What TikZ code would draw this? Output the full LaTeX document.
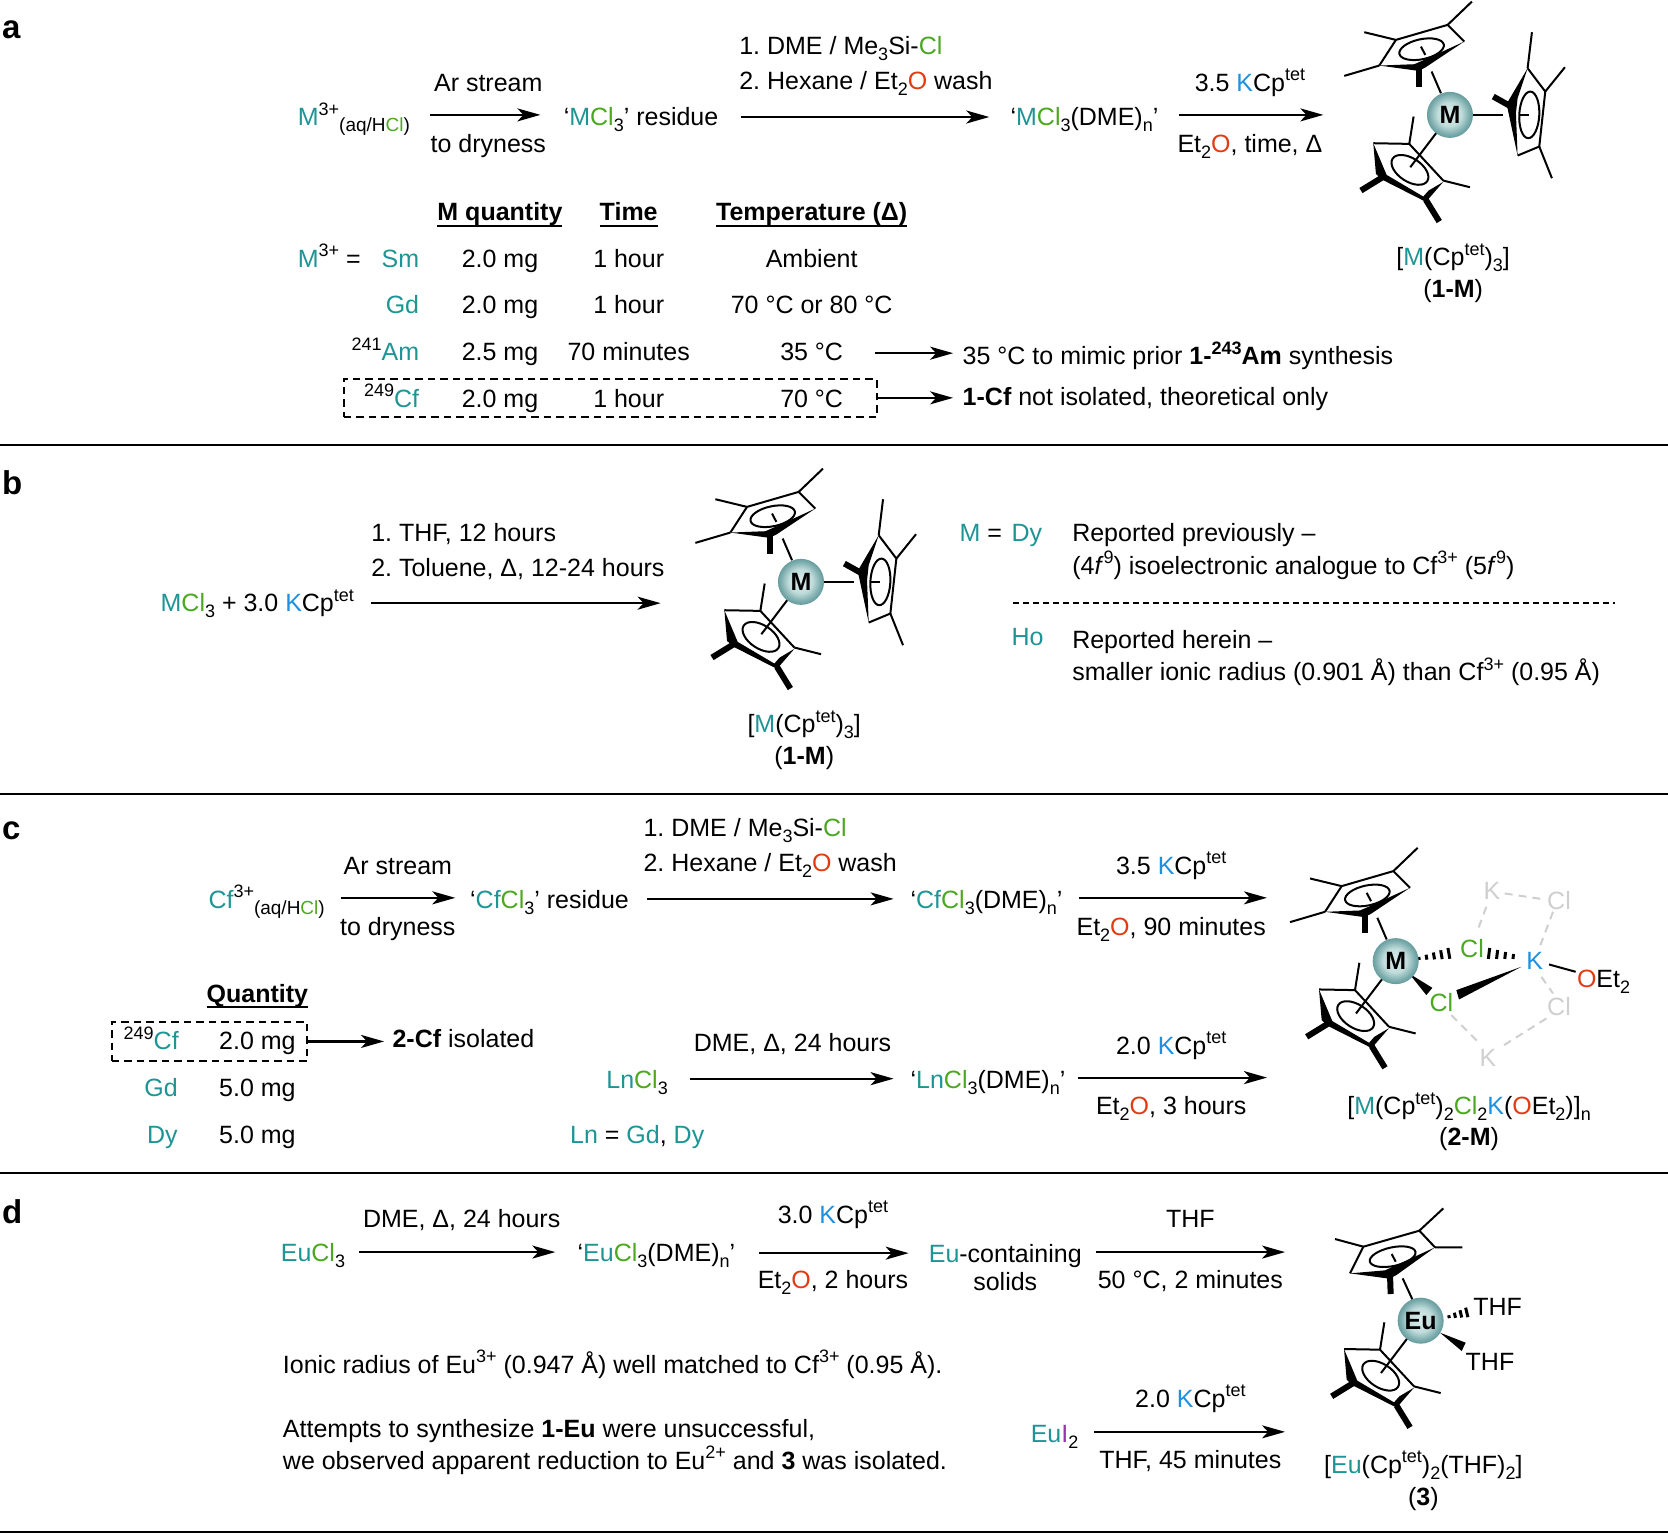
\documentclass[tikz,border=0pt]{standalone}
\usepackage{fontspec}
\setmainfont{Liberation Sans}
\usetikzlibrary{arrows.meta,calc}
\frenchspacing
\definecolor{mt}{HTML}{1F9494}
\definecolor{clg}{HTML}{4BA820}
\definecolor{kb}{HTML}{1E90E0}
\definecolor{ored}{HTML}{E23B14}
\definecolor{ipur}{HTML}{9B30B0}
\definecolor{gy}{HTML}{CFCFCF}
\definecolor{ballA}{HTML}{DAEDEB}
\definecolor{ballB}{HTML}{C0DCDB}
\definecolor{ballC}{HTML}{80AFB0}
\definecolor{ballD}{HTML}{5F9799}
\pgfdeclareradialshading{mball}{\pgfpoint{-1bp}{1bp}}{color(0bp)=(ballA); color(13bp)=(ballB); color(21bp)=(ballC); color(26bp)=(ballD); color(50bp)=(ballD)}
\newcommand\clrM[1]{\textcolor{mt}{#1}}
\newcommand\clrC[1]{\textcolor{clg}{#1}}
\newcommand\clrK[1]{\textcolor{kb}{#1}}
\newcommand\clrO[1]{\textcolor{ored}{#1}}
\newcommand\sps[1]{\raisebox{0.42em}{\fontsize{18}{18}\selectfont #1}}
\newcommand\sbs[1]{\raisebox{-0.24em}{\fontsize{18}{18}\selectfont #1}}
\newcommand\sbb[1]{\raisebox{-0.24em}{\fontsize{19}{19}\selectfont #1}}
\newcommand\kcp[1]{#1 \clrK{K}Cp\sps{tet}}
\newcommand\etO{Et\sbs{2}\clrO{O}}
\tikzset{
  every node/.style={font=\fontsize{25}{29}\selectfont},
  txt/.style={inner sep=0pt,outer sep=0pt,anchor=base},
  lft/.style={txt,anchor=base west},
  rgt/.style={txt,anchor=base east},
  head/.style={txt,font=\fontsize{25}{29}\selectfont\bfseries},
  panel/.style={lft,font=\fontsize{33}{36}\selectfont\bfseries},
  rxn/.style={line width=2.2pt,-{Stealth[length=23pt,width=13pt,inset=6pt]}},
  ruleline/.style={line width=2pt},
  ul/.style={line width=2pt},
  dbox/.style={draw,line width=2pt,dash pattern=on 7.5pt off 5pt,inner sep=0pt,minimum height=38.3pt},
  metal/.style={circle,inner sep=0pt,minimum size=46pt,shading=mball,font=\fontsize{25}{25}\selectfont\bfseries},
  bd/.style={line width=2pt},
  bold/.style={line width=6pt},
  ghost/.style={gy,line width=2pt,dash pattern=on 8pt off 6pt},
  glabel/.style={txt,anchor=center,text=gy},
  zoomat/.style n args={4}{shift={(#1,#2)},x=.33333pt,y=-.33333pt,shift={(-#3,-#4)}},
}
\newcommand\rxnarrow[6]{\draw[rxn] ([shift={(#2,#3)}]#1.base east) -- ([shift={(-#5,#6)}]#4.base west);}
\newcommand\rxnfree[4]{\draw[rxn] ([shift={(#2,#3)}]#1.base east) -- (#4);}
\newcommand\hashb[5]{%
  \coordinate (hA) at (#1); \coordinate (hB) at (#2);
  \foreach \i in {0,...,#5}{%
    \pgfmathsetmacro\ttt{\i/#5}%
    \pgfmathsetmacro\www{#3+(#4-#3)*\ttt}%
    \draw[line width=3pt] ($(hA)!\ttt!(hB)!\www pt!90:(hB)$) -- ($(hA)!\ttt!(hB)!\www pt!-90:(hB)$);
  }}
% rings, in coordinates of a 3x crop whose metal centre is (452,345)
\newcommand\CpTop{%
  \draw[bd,line join=round] (495,125)--(445,75)--(290,120)--(240,197);
  \fill (495,125)--(375,180)--(345,193)--(240,197)--(358,213)--(378,203)--cycle;
  \draw[bd] (290,120)--(195,97) (445,75)--(518,5) (240,197)--(135,228);
  \draw[bold] (360,205)--(360,260);
  \draw[bd] (367,148) ellipse [x radius=68,y radius=30,rotate=12];
  \draw[bd] (365,140)--(378,165);
  \draw[bd] (397,215)--(425,280);
}
\newcommand\CpRight{%
  \draw[bd,line join=round] (685,205)--(738,275)--(720,440)--(655,467);
  \fill (685,205)--(622,312)--(655,467)--(650,340)--(655,295)--cycle;
  \draw[bd] (685,205)--(698,97) (738,275)--(797,202) (720,440)--(758,535);
  \draw[bold] (632,318)--(582,290);
  \draw[bd] (690,345) ellipse [x radius=30,y radius=70,rotate=-3];
  \draw[bd] (662,345)--(690,345);
  \draw[bd] (520,345)--(610,345);
}
\newcommand\CpBottom{%
  \draw[bd,line join=round] (222,430)--(330,432)--(432,542);
  \fill (222,430)--(230,522)--(250,540)--(380,606)--(432,546)--(388,572)--(372,590)--(262,525)--cycle;
  \draw[bd] (330,432)--(343,350) (432,542)--(512,562);
  \draw[bold] (250,532)--(185,572) (380,600)--(420,665);
  \draw[bd,fill=white] (332,510) ellipse [x radius=62,y radius=35,rotate=-33];
  \draw[bd] (412,398)--(333,502);
}

\begin{document}
\begin{tikzpicture}[x=1.06378pt,y=-1.06378pt]
\useasboundingbox (0,0) rectangle (1568,1442);
% separators
\coordinate (sL1) at (0,418); \coordinate (sR1) at (1568,418);
\coordinate (sL2) at (0,746); \coordinate (sR2) at (1568,746);
\coordinate (sL3) at (0,1103); \coordinate (sR3) at (1568,1103);
\coordinate (sL4) at (0,1440); \coordinate (sR4) at (1568,1440);
\draw[ruleline] (sL1)--(sR1) (sL2)--(sR2) (sL3)--(sR3) (sL4)--(sR4);
% panel letters
\node[panel] (pa) at (2,36) {a};
\node[panel] (pb) at (2,465) {b};
\node[panel] (pc) at (2,789) {c};
\node[panel] (pd) at (2,1150) {d};

%%% PANEL A
\node[lft] (a1) at (280,118) {\clrM{M}\sps{3+}\sbb{(aq/H\clrC{Cl})}};
\node[txt] (a1t) at (459,86) {Ar stream};
\node[txt] (a1b) at (459,143) {to dryness};
\node[lft] (a2) at (530,118) {‘\clrM{M}\clrC{Cl}\sbs{3}’ residue};
\node[lft] (a2t) at (695,51) {1. DME / Me\sbs{3}Si-\clrC{Cl}};
\node[lft] (a2b) at (695,84) {2. Hexane / \etO{} wash};
\node[lft] (a3) at (950,118) {‘\clrM{M}\clrC{Cl}\sbs{3}(DME)\sbs{n}’};
\node[txt] (a3t) at (1175,86) {\kcp{3.5}};
\node[txt] (a3b) at (1175,143) {\etO, time, Δ};
\coordinate (a3e) at (1244,108);
\rxnarrow{a1}{19}{-10}{a2}{22}{-10}
\rxnarrow{a2}{21}{-8}{a3}{20}{-8}
\rxnfree{a3}{19}{-10}{a3e}
\begin{scope}[zoomat={1363}{108}{452}{345}]
\CpTop \CpRight \CpBottom
\node[metal] (aM) at (452,345) {M};
\end{scope}
\node[txt] (aF) at (1366,250) {[\clrM{M}(Cp\sps{tet})\sbs{3}]};
\node[txt] (aFn) at (1366,280) {(\textbf{1-M})};
% table a
\node[head] (ah1) at (470,207) {M quantity};
\node[head] (ah2) at (591,207) {Time};
\node[head] (ah3) at (763,207) {Temperature (Δ)};
\draw[ul] (ah1.base west |- 0,212)--(ah1.base east |- 0,212);
\draw[ul] (ah2.base west |- 0,212)--(ah2.base east |- 0,212);
\draw[ul] (ah3.base west |- 0,212)--(ah3.base east |- 0,212);
\node[lft] (aMeq) at (280,251) {\clrM{M}\sps{3+} =};
\node[rgt] (r1) at (394,251) {\clrM{Sm}};
\node[txt] (r1q) at (470,251) {2.0 mg};
\node[txt] (r1t) at (591,251) {1 hour};
\node[txt] (r1d) at (763,251) {Ambient};
\node[rgt] (r2) at (394,295) {\clrM{Gd}};
\node[txt] (r2q) at (470,295) {2.0 mg};
\node[txt] (r2t) at (591,295) {1 hour};
\node[txt] (r2d) at (763,295) {70 °C or 80 °C};
\node[rgt] (r3) at (394,339) {\sps{241}\clrM{Am}};
\node[txt] (r3q) at (470,339) {2.5 mg};
\node[txt] (r3t) at (591,339) {70 minutes};
\node[txt] (r3d) at (763,339) {35 °C};
\node[rgt] (r4) at (394,383) {\sps{249}\clrM{Cf}};
\node[txt] (r4q) at (470,383) {2.0 mg};
\node[txt] (r4t) at (591,383) {1 hour};
\node[txt] (r4d) at (763,383) {70 °C};
\node[dbox,minimum width=533pt] (aBox) at (573.5,374) {};
\node[lft] (n3) at (905,343) {35 °C to mimic prior \textbf{1-\sps{243}Am} synthesis};
\node[lft] (n4) at (905,381) {\textbf{1-Cf} not isolated, theoretical only};
\draw[rxn] ([shift={(30,-7)}]r3d.base east) -- ([shift={(-9,-11)}]n3.base west);
\draw[rxn] (aBox.east) -- ([shift={(-9,-7)}]n4.base west);

%%% PANEL B
\node[lft] (b1) at (151,575) {\clrM{M}\clrC{Cl}\sbs{3} + \kcp{3.0}};
\node[lft] (b1t) at (349,509) {1. THF, 12 hours};
\node[lft] (b1b) at (349,542) {2. Toluene, Δ, 12-24 hours};
\coordinate (b1e) at (621,567);
\rxnfree{b1}{16}{-8}{b1e}
\begin{scope}[zoomat={753}{547}{452}{345}]
\CpTop \CpRight \CpBottom
\node[metal] (bM) at (452,345) {M};
\end{scope}
\node[txt] (bF) at (756,689) {[\clrM{M}(Cp\sps{tet})\sbs{3}]};
\node[txt] (bFn) at (756,719) {(\textbf{1-M})};
\node[lft] (bq) at (902,509) {\clrM{M} =};
\node[lft] (bDy) at (951,509) {\clrM{Dy}};
\node[lft] (bT1) at (1008,509) {Reported previously –};
\node[lft] (bT2) at (1008,540) {(4\textit{f}\sps{9}) isoelectronic analogue to Cf\sps{3+} (5\textit{f}\sps{9})};
\coordinate (bdL) at (952,567); \coordinate (bdR) at (1518,567);
\draw[line width=1.4pt,dash pattern=on 6pt off 4pt] (bdL)--(bdR);
\node[lft] (bHo) at (951,607) {\clrM{Ho}};
\node[lft] (bT3) at (1008,610) {Reported herein –};
\node[lft] (bT4) at (1008,640) {smaller ionic radius (0.901 Å) than Cf\sps{3+} (0.95 Å)};

%%% PANEL C
\node[lft] (c1) at (196,854) {\clrM{Cf}\sps{3+}\sbb{(aq/H\clrC{Cl})}};
\node[txt] (c1t) at (374,822) {Ar stream};
\node[txt] (c1b) at (374,879) {to dryness};
\node[lft] (c2) at (442,854) {‘\clrM{Cf}\clrC{Cl}\sbs{3}’ residue};
\node[lft] (c2t) at (605,786) {1. DME / Me\sbs{3}Si-\clrC{Cl}};
\node[lft] (c2b) at (605,819) {2. Hexane / \etO{} wash};
\node[lft] (c3) at (856,854) {‘\clrM{Cf}\clrC{Cl}\sbs{3}(DME)\sbs{n}’};
\node[txt] (c3t) at (1101,822) {\kcp{3.5}};
\node[txt] (c3b) at (1101,879) {\etO, 90 minutes};
\coordinate (c3e) at (1191,844);
\rxnarrow{c1}{15}{-10}{c2}{14}{-10}
\rxnarrow{c2}{17}{-9}{c3}{16}{-9}
\rxnfree{c3}{15}{-10}{c3e}
\begin{scope}[zoomat={1312}{903.5}{452}{345}]
\CpTop \CpBottom
\end{scope}
\begin{scope}[zoomat={1312}{903.5}{378}{393}]
\draw[ghost] (650,230)--(622,305) (705,190)--(825,208) (850,245)--(812,345)
  (815,440)--(850,490) (830,565)--(695,650) (545,555)--(625,635);
\node[glabel] (gK1) at (667,183) {K};
\node[glabel] (gC1) at (868,210) {Cl};
\node[glabel] (gC2) at (868,528) {Cl};
\node[glabel] (gK2) at (655,682) {K};
\hashb{448,385}{560,366}{1.5}{6.5}{5}
\hashb{658,370}{755,382}{5.5}{1.5}{4}
\fill (418,430)--(488,473)--(470,495)--cycle;
\fill (755,410)--(560,480)--(568,508)--cycle;
\draw[bd] (838,403)--(918,425);
\node[txt,anchor=center,text=clg] (cCl1) at (607,355) {Cl};
\node[txt,anchor=center,text=clg] (cCl2) at (515,518) {Cl};
\node[txt,anchor=center,text=kb] (cK) at (795,393) {K};
\node[lft] (cO) at (922,472) {\clrO{O}Et\sbs{2}};
\node[metal] (cM) at (378,393) {M};
\end{scope}
\node[txt] (cF) at (1381,1048) {[\clrM{M}(Cp\sps{tet})\sbs{2}\clrC{Cl}\sbs{2}\clrK{K}(\clrO{O}Et\sbs{2})]\sbs{n}};
\node[txt] (cFn) at (1381,1077) {(\textbf{2-M})};
% lower c
\node[head] (cq) at (242,942) {Quantity};
\draw[ul] (cq.base west |- 0,947)--(cq.base east |- 0,947);
\node[rgt] (q1) at (168,987) {\sps{249}\clrM{Cf}};
\node[txt] (q1v) at (242,987) {2.0 mg};
\node[rgt] (q2) at (167,1031) {\clrM{Gd}};
\node[txt] (q2v) at (242,1031) {5.0 mg};
\node[rgt] (q3) at (167,1075) {\clrM{Dy}};
\node[txt] (q3v) at (242,1075) {5.0 mg};
\node[dbox,minimum width=195.7pt] (cBox) at (197,979) {};
\node[lft] (cIso) at (369,985) {\textbf{2-Cf} isolated};
\draw[rxn] (cBox.east) -- ([shift={(-8,-6)}]cIso.base west);
\node[lft] (l1) at (570,1023) {\clrM{Ln}\clrC{Cl}\sbs{3}};
\node[txt] (l1t) at (745,988) {DME, Δ, 24 hours};
\node[lft] (l2) at (856,1023) {‘\clrM{Ln}\clrC{Cl}\sbs{3}(DME)\sbs{n}’};
\node[txt] (l2t) at (1101,991) {\kcp{2.0}};
\node[txt] (l2b) at (1101,1048) {\etO, 3 hours};
\coordinate (l2e) at (1191,1013);
\rxnarrow{l1}{21}{-9}{l2}{16}{-9}
\rxnfree{l2}{12}{-10}{l2e}
\node[lft] (lLn) at (536,1075) {\clrM{Ln} = \clrM{Gd}, \clrM{Dy}};

%%% PANEL D
\node[lft] (d1) at (264,1186) {\clrM{Eu}\clrC{Cl}\sbs{3}};
\node[txt] (d1t) at (434,1154) {DME, Δ, 24 hours};
\node[lft] (d2) at (543,1186) {‘\clrM{Eu}\clrC{Cl}\sbs{3}(DME)\sbs{n}’};
\node[txt] (d2t) at (783,1150) {\kcp{3.0}};
\node[txt] (d2b) at (783,1211) {\etO, 2 hours};
\node[txt] (d3) at (945,1187) {\clrM{Eu}-containing};
\node[txt] (d3s) at (945,1213) {solids};
\node[txt] (d3t) at (1119,1154) {THF};
\node[txt] (d3b) at (1119,1211) {50 °C, 2 minutes};
\coordinate (d3e) at (1208,1177);
\rxnarrow{d1}{13}{-9}{d2}{21}{-9}
\rxnarrow{d2}{22}{-8}{d3}{19}{-9}
\rxnfree{d3}{13}{-10}{d3e}
\node[lft] (d4) at (969,1356) {\clrM{Eu}\textcolor{ipur}{I}\sbs{2}};
\node[txt] (d4t) at (1119,1323) {\kcp{2.0}};
\node[txt] (d4b) at (1119,1380) {THF, 45 minutes};
\coordinate (d4e) at (1208,1346);
\rxnfree{d4}{15}{-10}{d4e}
\begin{scope}[zoomat={1335.5}{1241.5}{452}{345}]
\CpBottom
\end{scope}
\begin{scope}[zoomat={1335.5}{1241.5}{362}{392}]
\draw[bd,line join=round] (405,172)--(358,122)--(190,170)--(150,250);
\fill (405,172)--(285,227)--(255,241)--(150,250)--(268,266)--(288,256)--cycle;
\draw[bd] (190,170)--(105,147) (358,122)--(430,55) (405,172)--(487,172);
\draw[bold] (270,255)--(272,312);
\draw[bd] (278,200) ellipse [x radius=70,y radius=28,rotate=12];
\draw[bd] (275,192)--(287,215);
\draw[bd] (308,265)--(337,328);
\hashb{447,380}{518,363}{1.5}{6}{4}
\fill (420,428)--(497,458)--(485,483)--cycle;
\node[lft,anchor=west] (dT1) at (520,350) {THF};
\node[lft,anchor=west] (dT2) at (497,517) {THF};
\node[metal] (dM) at (362,392) {Eu};
\end{scope}
\node[txt] (dF) at (1338,1385) {[\clrM{Eu}(Cp\sps{tet})\sbs{2}(THF)\sbs{2}]};
\node[txt] (dFn) at (1338,1415) {(\textbf{3})};
\node[lft] (dN1) at (266,1291) {Ionic radius of Eu\sps{3+} (0.947 Å) well matched to Cf\sps{3+} (0.95 Å).};
\node[lft] (dN2) at (266,1351) {Attempts to synthesize \textbf{1-Eu} were unsuccessful,};
\node[lft] (dN3) at (266,1381) {we observed apparent reduction to Eu\sps{2+} and \textbf{3} was isolated.};
\end{tikzpicture}
\end{document}
